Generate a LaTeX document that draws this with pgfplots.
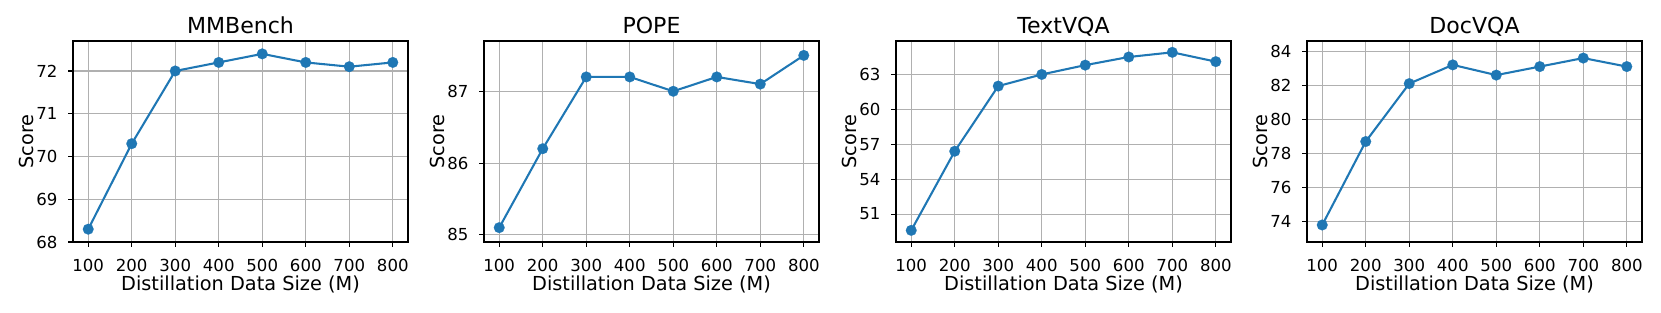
\documentclass[border=0pt]{standalone}
\usepackage{fontspec}
\setmainfont{DejaVu Sans}
\usepackage{pgfplots}
\pgfplotsset{compat=1.18}
\definecolor{mplblue}{HTML}{1F77B4}
\definecolor{gridgray}{HTML}{B0B0B0}
\pgfplotsset{
  panel/.style={
    scale only axis, width=242.9pt, height=145.7pt, anchor=south west,
    xmin=65, xmax=835, xtick={100,200,...,800},
    grid=major, major grid style={gridgray, line width=0.8pt},
    axis line style={line width=0.8pt, black},
    tick align=outside, major tick length=3.5pt,
    tick style={black, line width=0.8pt},
    xtick pos=bottom, ytick pos=left,
    /pgf/number format/assume math mode=true,
    ticklabel style={font=\fontsize{12}{14}\selectfont, inner sep=0pt},
    xticklabel style={anchor=base, yshift=-17.6pt},
    yticklabel style={anchor=east, xshift=-7.6pt},
    xlabel={Distillation Data Size (M)}, ylabel={Score},
    every axis x label/.style={at={(axis description cs:0.5,-0.242)}, anchor=base, font=\fontsize{14}{16}\selectfont},
    every axis y label/.style={at={(axis description cs:-0.119,0.5)}, rotate=90, anchor=base, font=\fontsize{14}{16}\selectfont},
    every axis title/.style={at={(axis description cs:0.5,1.038)}, anchor=base, font=\fontsize{16}{19}\selectfont},
  },
  series/.style={mplblue, line width=1.5pt, mark=*, mark size=3.9pt,
    mark options={solid, fill=mplblue, draw=mplblue, line width=0.1pt}},
}
\begin{document}
\begin{tikzpicture}
\useasboundingbox (0,0) rectangle (1661*0.725pt, -312*0.725pt);
\begin{axis}[panel, at={(73*0.725pt, -242*0.725pt)}, title={MMBench},
  ymin=68, ymax=72.7, ytick={68,69,70,71,72}]
\addplot[series] coordinates {(100,68.3) (200,70.3) (300,72.0) (400,72.2) (500,72.4) (600,72.2) (700,72.1) (800,72.2)};
\end{axis}
\begin{axis}[panel, at={(484*0.725pt, -242*0.725pt)}, title={POPE},
  ymin=84.9, ymax=87.7, ytick={85,86,87}]
\addplot[series] coordinates {(100,85.1) (200,86.2) (300,87.2) (400,87.2) (500,87.0) (600,87.2) (700,87.1) (800,87.5)};
\end{axis}
\begin{axis}[panel, at={(896*0.725pt, -242*0.725pt)}, title={TextVQA},
  ymin=48.6, ymax=65.87, ytick={51,54,57,60,63}]
\addplot[series] coordinates {(100,49.6) (200,56.4) (300,62.0) (400,63.0) (500,63.8) (600,64.5) (700,64.9) (800,64.1)};
\end{axis}
\begin{axis}[panel, at={(1307*0.725pt, -242*0.725pt)}, title={DocVQA},
  ymin=72.8, ymax=84.6, ytick={74,76,78,80,82,84}]
\addplot[series] coordinates {(100,73.8) (200,78.7) (300,82.1) (400,83.2) (500,82.6) (600,83.1) (700,83.6) (800,83.1)};
\end{axis}
\end{tikzpicture}
\end{document}
